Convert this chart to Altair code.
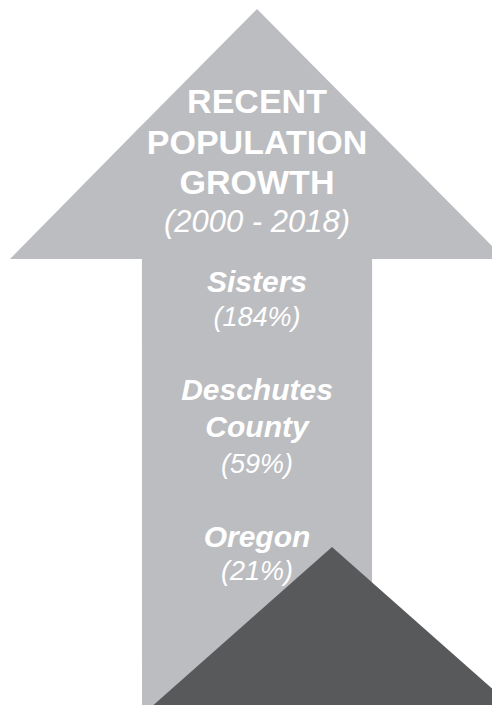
import altair as alt
import pandas as pd

# ---- content ----
title_lines = ["RECENT", "POPULATION", "GROWTH"]
period = "(2000 - 2018)"
places = ["Sisters", "Deschutes County", "Oregon"]
growth_pct = [184, 59, 21]

LIGHT = "#bcbdc0"
DARK = "#58595b"

# ---- decorative shapes (outline of the up-arrow and the corner triangle) ----
arrow = pd.DataFrame({
    "px": [10.0, 141.9, 142.0, 257.0, 372.0, 372.1, 492.0],
    "py": [259.0, 125.1, 125.0, 9.0, 125.0, 125.1, 246.0],
    "py2": [259.0, 259.0, 705.0, 705.0, 705.0, 259.0, 259.0],
})
corner = pd.DataFrame({
    "px": [153.5, 332.0, 492.0],
    "py": [705.0, 547.0, 688.6],
    "py2": [705.0, 705.0, 705.0],
})

xs = alt.Scale(domain=[8, 492])
ys = alt.Scale(domain=[8, 705], reverse=True)

def shape(df, color):
    return alt.Chart(df).mark_area(color=color).encode(
        x=alt.X("px:Q", scale=xs, axis=None),
        y=alt.Y("py:Q", scale=ys, axis=None),
        y2=alt.Y2("py2:Q"),
    )

# ---- text lines ----
rows = []
title_base = [113, 154, 194]
for t, b in zip(title_lines, title_base):
    rows.append({"t": t, "py": b, "kind": "title"})
rows.append({"t": period, "py": 232, "kind": "period"})

name_lines = [["Sisters"], ["Deschutes", "County"], ["Oregon"]]
name_base = [[292], [400, 437], [547]]
pct_base = [326, 473, 580]
for nl, nb, p, pb in zip(name_lines, name_base, growth_pct, pct_base):
    for t, b in zip(nl, nb):
        rows.append({"t": t, "py": b, "kind": "name"})
    rows.append({"t": f"({p}%)", "py": pb, "kind": "pct"})
texts = pd.DataFrame(rows)
texts["px"] = 257

def text_layer(kind, **kw):
    return alt.Chart(texts[texts.kind == kind].reset_index(drop=True)).mark_text(
        color="white", align="center", baseline="alphabetic", font="Liberation Sans", **kw
    ).encode(
        x=alt.X("px:Q", scale=xs, axis=None),
        y=alt.Y("py:Q", scale=ys, axis=None),
        text="t:N",
    )

chart = alt.layer(
    shape(arrow, LIGHT),
    shape(corner, DARK),
    text_layer("title", fontSize=34, fontWeight="bold"),
    text_layer("period", fontSize=31, fontStyle="italic"),
    text_layer("name", fontSize=30, fontStyle="italic", fontWeight="bold"),
    text_layer("pct", fontSize=27, fontStyle="italic"),
).properties(width=484, height=697, padding=0).configure_view(strokeWidth=0)

chart.save("out.html", embed_options={"renderer": "svg", "actions": False})
